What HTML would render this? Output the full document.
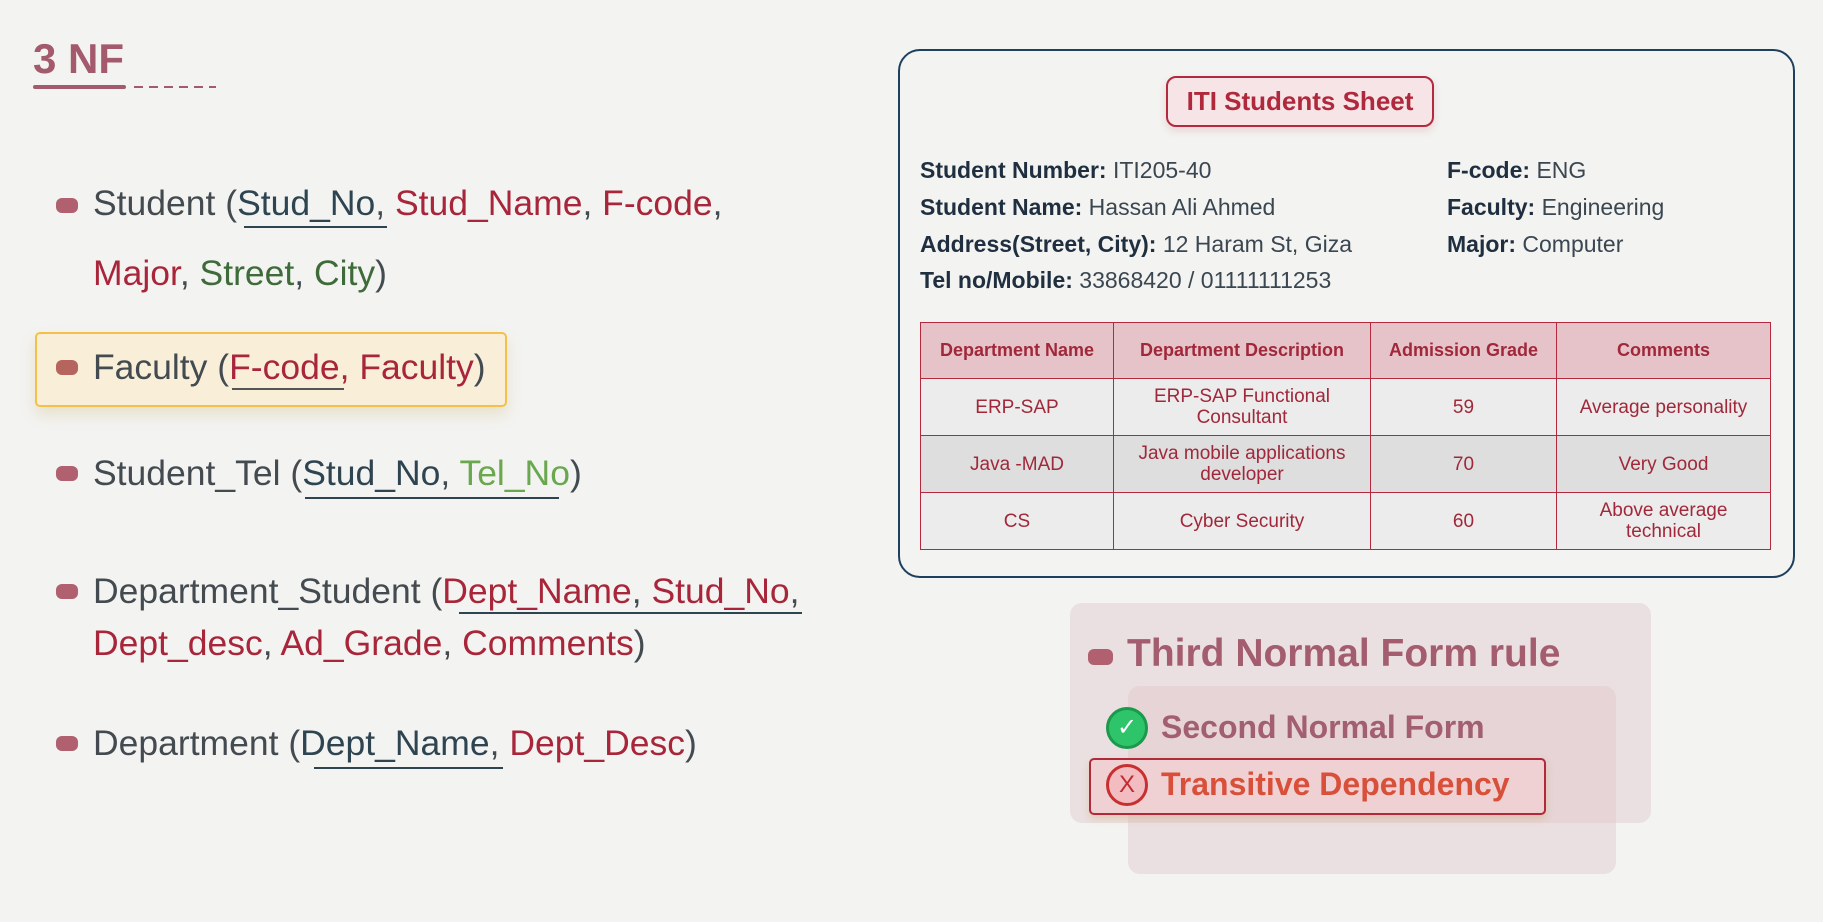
<!DOCTYPE html>
<html><head><meta charset="utf-8"><style>
*{margin:0;padding:0;box-sizing:border-box}
body{width:1823px;height:922px;background:#f3f3f1;position:relative;overflow:hidden;font-family:"Liberation Sans",sans-serif}
.a{position:absolute;white-space:nowrap}
.t{font-size:35.5px;color:#444b50;line-height:42px}
.r{color:#a8253a}.k{color:#2e4450}.g{color:#3f6b3a}.lg{color:#6aa84f}
.bul{position:absolute;width:22px;height:15px;border-radius:6px;background:#b0606f}
.ul{position:absolute;height:2px;background:#2e4450}
.info{font-size:23px;color:#3a4650;line-height:26px}
.info b{color:#1f2f3f}
table{position:absolute;left:920px;top:322px;width:851px;border-collapse:collapse}
td,th{border:1.5px solid #b5293f;text-align:center;color:#a0283a;font-size:19px;line-height:21px;padding:0 3px}
th{background:#e6c3c9;height:56px;font-weight:bold;font-size:18px}
td{height:57px;background:#ececec}
tr.m td{background:#dedede}
</style></head><body>
<div class="a" style="left:33px;top:34px;font-size:42px;font-weight:bold;color:#a45a6d;line-height:50px">3 NF</div>
<div class="a" style="left:33px;top:85px;width:93px;height:4px;background:#a45a6d;border-radius:2px"></div>
<div class="a" style="left:134px;top:86px;width:82px;height:2px;background:repeating-linear-gradient(90deg,#a45a6d 0 9px,transparent 9px 15px)"></div>

<div class="bul" style="left:56px;top:198px"></div>
<div class="a t" style="left:93px;top:182px">Student (<span class="k">Stud_No</span>, <span class="r">Stud_Name</span>, <span class="r">F-code</span>,</div>
<div class="ul" style="left:244px;top:226px;width:143px"></div>
<div class="a t" style="left:93px;top:252px"><span class="r">Major</span>, <span class="g">Street</span>, <span class="g">City</span>)</div>

<div class="a" style="left:35px;top:332px;width:472px;height:75px;background:#f9efd9;border:2.5px solid #f3c14a;border-radius:5px;box-shadow:0 8px 14px rgba(200,170,100,.25)"></div>
<div class="bul" style="left:56px;top:360px;background:#b5655e"></div>
<div class="a t" style="left:93px;top:346px">Faculty (<span class="r">F-code, Faculty</span>)</div>
<div class="ul" style="left:232px;top:388px;width:112px;background:#555"></div>

<div class="bul" style="left:56px;top:466px"></div>
<div class="a t" style="left:93px;top:452px">Student_Tel (<span class="k">Stud_No</span>, <span class="lg">Tel_No</span>)</div>
<div class="ul" style="left:305px;top:497px;width:254px"></div>

<div class="bul" style="left:56px;top:584px"></div>
<div class="a t" style="left:93px;top:570px">Department_Student (<span class="r">Dept_Name</span>, <span class="r">Stud_No</span>,</div>
<div class="ul" style="left:459px;top:612px;width:343px"></div>
<div class="a t" style="left:93px;top:622px"><span class="r">Dept_desc</span>, <span class="r">Ad_Grade</span>, <span class="r">Comments</span>)</div>

<div class="bul" style="left:56px;top:736px"></div>
<div class="a t" style="left:93px;top:722px">Department (<span class="k">Dept_Name</span>, <span class="r">Dept_Desc</span>)</div>
<div class="ul" style="left:314px;top:767px;width:189px"></div>

<div class="a" style="left:898px;top:49px;width:897px;height:529px;border:2.5px solid #1f3f5e;border-radius:22px"></div>
<div class="a" style="left:1166px;top:76px;width:268px;height:51px;border:2px solid #b22a3e;border-radius:10px;background:#f6e4e6;box-shadow:0 4px 8px rgba(180,40,60,.15);text-align:center;font-size:26px;font-weight:bold;color:#b0283c;line-height:47px">ITI Students Sheet</div>
<div class="a info" style="left:920px;top:157px"><b>Student Number:</b> ITI205-40</div>
<div class="a info" style="left:920px;top:194px"><b>Student Name:</b> Hassan Ali Ahmed</div>
<div class="a info" style="left:920px;top:231px"><b>Address(Street, City):</b> 12 Haram St, Giza</div>
<div class="a info" style="left:920px;top:267px"><b>Tel no/Mobile:</b> 33868420 / 01111111253</div>
<div class="a info" style="left:1447px;top:157px"><b>F-code:</b> ENG</div>
<div class="a info" style="left:1447px;top:194px"><b>Faculty:</b> Engineering</div>
<div class="a info" style="left:1447px;top:231px"><b>Major:</b> Computer</div>
<table>
<tr><th style="width:193px">Department Name</th><th style="width:257px">Department Description</th><th style="width:186px">Admission Grade</th><th>Comments</th></tr>
<tr><td>ERP-SAP</td><td>ERP-SAP Functional<br>Consultant</td><td>59</td><td>Average personality</td></tr>
<tr class="m"><td>Java -MAD</td><td>Java mobile applications<br>developer</td><td>70</td><td>Very Good</td></tr>
<tr><td>CS</td><td>Cyber Security</td><td>60</td><td>Above average<br>technical</td></tr>
</table>

<div class="a" style="left:1070px;top:603px;width:581px;height:220px;background:rgba(222,190,196,.35);border-radius:12px"></div>
<div class="a" style="left:1128px;top:686px;width:488px;height:188px;background:rgba(222,190,196,.35);border-radius:12px"></div>
<div class="bul" style="left:1088px;top:649px;width:25px;height:16px"></div>
<div class="a" style="left:1127px;top:631px;font-size:39px;font-weight:bold;color:#a35d6f;line-height:46px">Third Normal Form rule</div>
<div class="a" style="left:1106px;top:707px;width:42px;height:42px;border-radius:50%;background:#2ec46a;border:3px solid #1a9a4a;color:#fff;text-align:center;font-size:24px;line-height:36px">✓</div>
<div class="a" style="left:1161px;top:708px;font-size:32px;font-weight:bold;color:#a25f70;line-height:38px">Second Normal Form</div>
<div class="a" style="left:1089px;top:758px;width:457px;height:57px;background:#efd0d3;border:2.5px solid #b02a3a;border-radius:5px;box-shadow:0 4px 8px rgba(200,150,80,.3)"></div>
<div class="a" style="left:1106px;top:764px;width:42px;height:42px;border-radius:50%;background:#f2bcc0;border:3px solid #c83030;color:#c02a30;text-align:center;font-size:24px;line-height:36px">X</div>
<div class="a" style="left:1161px;top:765px;font-size:32px;font-weight:bold;color:#d9503a;line-height:38px">Transitive Dependency</div>
</body></html>
